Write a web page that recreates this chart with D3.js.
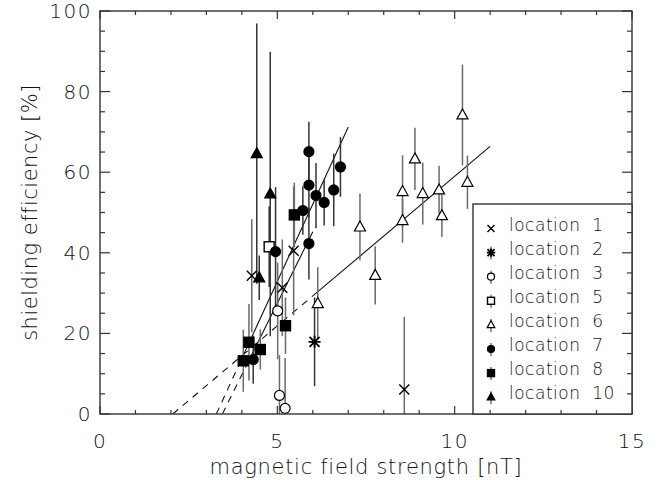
<!DOCTYPE html>
<html>
<head>
<meta charset="utf-8">
<script src="https://d3js.org/d3.v7.min.js"></script>
<style>
body { margin: 0; background: #fff; }
svg text { font-family: "DejaVu Sans", sans-serif; font-weight: 200; fill: #111; }
</style>
</head>
<body>
<div id="chart"></div>
<script>
// [x nT, efficiency %, error]
var loc1 = [[4.28, 34.3, 14], [5.14, 31.3, 12], [5.46, 40.5, 16], [8.58, 6.1, 18]];
var loc2 = [[6.05, 17.9, 11]];
var loc3 = [[5.01, 25.6, 12], [5.06, 4.6, 10], [5.22, 1.4, 12.5]];
var loc5 = [[4.77, 41.5, 10]];
var loc6 = [[6.14, 27.4, 9], [7.33, 46.4, 8.3], [7.76, 34.4, 7.2], [8.53, 48.0, 5.5], [8.53, 55.2, 9],
            [8.88, 63.3, 7.7], [9.10, 54.7, 7.7], [9.56, 55.6, 6], [9.64, 49.2, 5.3], [10.22, 74.2, 12.5], [10.36, 57.5, 6.6]];
var loc7 = [[4.32, 13.5, 6], [4.95, 40.3, 16], [5.72, 50.5, 6], [5.89, 42.3, 8.9], [5.89, 56.8, 8], [5.89, 65.1, 7.4],
            [6.09, 54.2, 8.1], [6.32, 52.5, 5.7], [6.59, 55.6, 9], [6.78, 61.3, 7.4]];
var loc8 = [[4.04, 13.2, 7.7], [4.2, 17.8, 9.5], [4.52, 16.0, 5], [5.23, 21.9, 7], [5.48, 49.4, 8]];
var loc10 = [[4.42, 64.6, 32.3], [4.49, 33.8, 5.5], [4.80, 54.6, 35.3]];

var legendLabels = ["location  1", "location  2", "location  3", "location  5", "location  6", "location  7", "location  8", "location  10"];
var legendSyms = ["x", "star", "circle", "square", "triangle", "dot", "block", "tri"];

// fit lines: [x at y=0 (dashed start), solid start x, end x, end y]
var fits = [[2.05, 6.0, 11.0, 66.4], [3.28, 4.04, 7.0, 71.2], [3.45, 4.3, 6.0, 45.2]];

var xTicks = [0, 5, 10, 15];
var yTicks = [0, 20, 40, 60, 80, 100];

var margin = {left: 100, top: 11, right: 25, bottom: 66};
var W = 657, H = 480;

var svg = d3.select("#chart").append("svg")
    .attr("width", W)
    .attr("height", H);

var x = d3.scaleLinear().domain([0, 15]).range([margin.left, W - margin.right]);
var y = d3.scaleLinear().domain([0, 100]).range([H - margin.bottom, margin.top]);

var plot = svg.append("g");

// fit lines, dashed below the data range
fits.forEach(function(f){
    var slope = f[3] / (f[2] - f[0]);
    plot.append("line")
        .attr("x1", x(f[0])).attr("y1", y(0))
        .attr("x2", x(f[1])).attr("y2", y(slope * (f[1] - f[0])))
        .attr("stroke", "#111").attr("stroke-width", 1.1)
        .attr("stroke-dasharray", "7,6");
    plot.append("line")
        .attr("x1", x(f[1])).attr("y1", y(slope * (f[1] - f[0])))
        .attr("x2", x(f[2])).attr("y2", y(f[3]))
        .attr("stroke", "#111").attr("stroke-width", 1.1);
});

var drawSym = function(g, type, cx, cy, s){
    var k = s || 1;
    if(type == "x"){
        g.append("path").attr("d", "M" + (cx - 5*k) + "," + (cy - 5*k) + "L" + (cx + 5*k) + "," + (cy + 5*k) +
            "M" + (cx - 5*k) + "," + (cy + 5*k) + "L" + (cx + 5*k) + "," + (cy - 5*k))
            .attr("stroke", "#000").attr("stroke-width", 1.4).attr("fill", "none");
    }
    else if(type == "star"){
        g.append("path").attr("d", "M" + (cx - 5*k) + "," + (cy - 5*k) + "L" + (cx + 5*k) + "," + (cy + 5*k) +
            "M" + (cx - 5*k) + "," + (cy + 5*k) + "L" + (cx + 5*k) + "," + (cy - 5*k) +
            "M" + (cx - 6*k) + "," + cy + "L" + (cx + 6*k) + "," + cy +
            "M" + cx + "," + (cy - 6*k) + "L" + cx + "," + (cy + 6*k))
            .attr("stroke", "#000").attr("stroke-width", 1.8).attr("fill", "none");
    }
    else if(type == "circle" || type == "dot"){
        g.append("circle").attr("cx", cx).attr("cy", cy).attr("r", 5*k)
            .attr("fill", type == "dot" ? "#000" : "#fff")
            .attr("stroke", "#000").attr("stroke-width", 1.2);
    }
    else if(type == "square" || type == "block"){
        g.append("rect").attr("x", cx - 5*k).attr("y", cy - 5*k).attr("width", 10*k).attr("height", 10*k)
            .attr("fill", type == "block" ? "#000" : "#fff")
            .attr("stroke", "#000").attr("stroke-width", 1.4);
    }
    else {
        g.append("path").attr("d", "M" + cx + "," + (cy - 6*k) + "L" + (cx + 5.5*k) + "," + (cy + 4*k) +
            "L" + (cx - 5.5*k) + "," + (cy + 4*k) + "Z")
            .attr("fill", type == "tri" ? "#000" : "#fff")
            .attr("stroke", "#000").attr("stroke-width", 1.2);
    }
};

var allData = [loc1, loc2, loc3, loc5, loc6, loc7, loc8, loc10];

// error bars first
allData.forEach(function(d, i){
    plot.selectAll(".err" + i).data(d).enter().append("line")
        .attr("class", "err" + i)
        .attr("x1", function(p){return x(p[0]);})
        .attr("x2", function(p){return x(p[0]);})
        .attr("y1", function(p){return y(Math.min(100, p[1] + p[2]));})
        .attr("y2", function(p){return y(Math.max(0, p[1] - p[2]));})
        .attr("stroke", i % 2 ? "#333" : "#6a6a6a")
        .attr("stroke-width", 1.5);
});

allData.forEach(function(d, i){
    d.forEach(function(p){
        drawSym(plot, legendSyms[i], x(p[0]), y(p[1]));
    });
});

// frame and ticks
var axisCol = "#333";
svg.append("rect")
    .attr("x", x(0)).attr("y", y(100))
    .attr("width", x(15) - x(0)).attr("height", y(0) - y(100))
    .attr("fill", "none").attr("stroke", axisCol).attr("stroke-width", 1.4);

var xMinor = d3.range(0, 16, 1);
xMinor.forEach(function(v){
    var len = (v % 5 == 0) ? 8 : 4;
    svg.append("line").attr("x1", x(v)).attr("x2", x(v)).attr("y1", y(0)).attr("y2", y(0) - len)
        .attr("stroke", axisCol).attr("stroke-width", 1.2);
    svg.append("line").attr("x1", x(v)).attr("x2", x(v)).attr("y1", y(100)).attr("y2", y(100) + len)
        .attr("stroke", axisCol).attr("stroke-width", 1.2);
});
var yMinor = d3.range(0, 101, 5);
yMinor.forEach(function(v){
    var len = (v % 20 == 0) ? 10 : 5;
    svg.append("line").attr("y1", y(v)).attr("y2", y(v)).attr("x1", x(0)).attr("x2", x(0) + len)
        .attr("stroke", axisCol).attr("stroke-width", 1.2);
    svg.append("line").attr("y1", y(v)).attr("y2", y(v)).attr("x1", x(15)).attr("x2", x(15) - len)
        .attr("stroke", axisCol).attr("stroke-width", 1.2);
});

svg.selectAll(".xlab").data(xTicks).enter().append("text")
    .attr("class", "xlab")
    .attr("x", function(d){return x(d);})
    .attr("y", 448)
    .attr("text-anchor", "middle")
    .attr("font-size", 20)
    .attr("letter-spacing", 1.5)
    .text(function(d){return d;});

svg.selectAll(".ylab").data(yTicks).enter().append("text")
    .attr("class", "ylab")
    .attr("x", 92)
    .attr("y", function(d){return y(d) + 7;})
    .attr("text-anchor", "end")
    .attr("font-size", 20)
    .attr("letter-spacing", 1.5)
    .text(function(d){return d;});

svg.append("text")
    .attr("x", (x(0) + x(15)) / 2).attr("y", 474)
    .attr("text-anchor", "middle").attr("font-size", 21)
    .attr("letter-spacing", 0.7)
    .text("magnetic field strength [nT]");

svg.append("text")
    .attr("transform", "translate(37," + ((y(0) + y(100)) / 2) + ") rotate(-90)")
    .attr("text-anchor", "middle").attr("font-size", 21)
    .attr("letter-spacing", 0.5)
    .text("shielding efficiency [%]");

// legend
var lg = svg.append("g");
lg.append("rect")
    .attr("x", 473).attr("y", 204)
    .attr("width", x(15) - 473).attr("height", y(0) - 204)
    .attr("fill", "#fff").attr("stroke", axisCol).attr("stroke-width", 1.4);
yMinor.forEach(function(v){
    if(y(v) > 204 && y(v) < y(0)){
        var len = (v % 20 == 0) ? 10 : 5;
        lg.append("line").attr("y1", y(v)).attr("y2", y(v)).attr("x1", x(15)).attr("x2", x(15) - len)
            .attr("stroke", axisCol).attr("stroke-width", 1.2);
    }
});
[11, 12, 13, 14].forEach(function(v){
    lg.append("line").attr("x1", x(v)).attr("x2", x(v)).attr("y1", y(0)).attr("y2", y(0) - 4)
        .attr("stroke", axisCol).attr("stroke-width", 1.2);
});
legendLabels.forEach(function(t, i){
    var ly = 224.5 + i * 24.1;
    if(i > 0){
        lg.append("line").attr("x1", 491).attr("x2", 491).attr("y1", ly - 2).attr("y2", ly + 11)
            .attr("stroke", "#555").attr("stroke-width", 1.2);
    }
    drawSym(lg, legendSyms[i], 491, ly + 4, 0.7);
    lg.append("text")
        .attr("x", 509).attr("y", ly + 6)
        .attr("font-size", 17)
        .attr("letter-spacing", 0.5)
        .style("white-space", "pre")
        .text(t);
});
</script>
</body>
</html>
